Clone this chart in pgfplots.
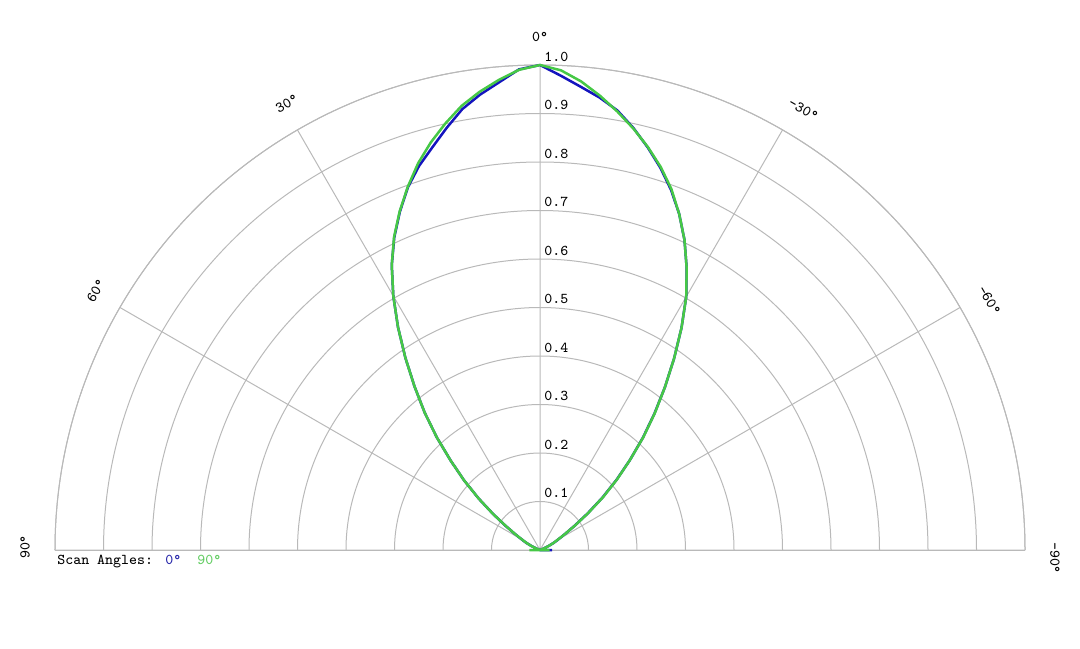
\documentclass[border=0pt]{standalone}
\usepackage{fontspec}
\usepackage{pgfplots}
\usepgfplotslibrary{polar}
\pgfplotsset{compat=1.18}
\usepackage{pgfplotstable}
\definecolor{gridgray}{RGB}{185,185,185}
\definecolor{curveblue}{RGB}{20,20,190}
\definecolor{curvegreen}{RGB}{70,200,70}
\definecolor{legblue}{RGB}{40,40,170}
\definecolor{leggreen}{RGB}{100,205,100}
% scan angle 0 deg
\pgfplotstableread{
a r
-90 0.025
-85 0.0
-80 0.0
-75 0.0
-70 0.004
-67.5 0.010
-65 0.020
-62.5 0.032
-60 0.043
-57.5 0.060
-55 0.087
-52.5 0.124
-50 0.168
-47.5 0.214
-45 0.262
-42.5 0.314
-40 0.367
-37.5 0.423
-35 0.482
-32.5 0.543
-30 0.603
-27.5 0.655
-25 0.705
-22.5 0.750
-20 0.790
-17.5 0.826
-15 0.859
-12.5 0.891
-10 0.920
-7.5 0.941
-5 0.959
-2.5 0.979
0 1.000
2.5 0.992
5 0.968
7.5 0.947
10 0.923
12.5 0.891
15 0.859
17.5 0.830
20 0.796
22.5 0.755
25 0.711
27.5 0.662
30 0.605
32.5 0.545
35 0.484
37.5 0.425
40 0.370
42.5 0.315
45 0.260
47.5 0.212
50 0.165
52.5 0.122
55 0.086
57.5 0.060
60 0.043
62.5 0.032
65 0.020
67.5 0.010
70 0.004
75 0.0
80 0.0
85 0.0
90 0.0
}\scanzero
% scan angle 90 deg
\pgfplotstableread{
a r
-90 0.020
-85 0.0
-80 0.0
-75 0.0
-70 0.004
-67.5 0.010
-65 0.020
-62.5 0.031
-60 0.042
-57.5 0.060
-55 0.088
-52.5 0.125
-50 0.170
-47.5 0.215
-45 0.262
-42.5 0.315
-40 0.368
-37.5 0.423
-35 0.482
-32.5 0.543
-30 0.603
-27.5 0.655
-25 0.705
-22.5 0.750
-20 0.792
-17.5 0.828
-15 0.860
-12.5 0.890
-10 0.918
-7.5 0.945
-5 0.970
-2.5 0.990
0 1.000
2.5 0.991
5 0.973
7.5 0.953
10 0.930
12.5 0.901
15 0.870
17.5 0.836
20 0.797
22.5 0.756
25 0.712
27.5 0.662
30 0.605
32.5 0.545
35 0.484
37.5 0.425
40 0.370
42.5 0.315
45 0.260
47.5 0.212
50 0.165
52.5 0.122
55 0.085
57.5 0.060
60 0.042
62.5 0.031
65 0.020
67.5 0.010
70 0.004
75 0.0
80 0.0
85 0.0
90 0.022
}\scanninety
\begin{document}
\begin{tikzpicture}[font=\ttfamily\fontsize{7.5}{9}\selectfont]
\begin{polaraxis}[
  scale only axis, width=485pt, height=485pt,
  xmin=0, xmax=180, ymin=0, ymax=1,
  xtick={0,30,...,180},
  ytick={0.1,0.2,0.3,0.4,0.5,0.6,0.7,0.8,0.9,1.0},
  xticklabel={\relax}, yticklabel={\relax},
  major tick length=0pt,
  grid=major,
  major grid style={draw=gridgray, line width=0.5pt},
  axis line style={draw=gridgray, line width=0.5pt},
  clip=false,
]
\addplot[curveblue, line width=1.25pt, no marks, line join=round] table[x expr=\thisrow{a}+90, y=r]{\scanzero};
\addplot[curvegreen, line width=1.25pt, no marks, line join=round] table[x expr=\thisrow{a}+90, y=r]{\scanninety};
\coordinate (c) at (axis cs:0,0);
\pgfplotsinvokeforeach{0.1,0.2,0.3,0.4,0.5,0.6,0.7,0.8,0.9,1.0}{
  \node[anchor=south west, inner sep=0pt, xshift=2pt, yshift=1.5pt] at (axis cs:90,#1) {#1};
}
\end{polaraxis}
\node at ([shift={(0pt,256.5pt)}]c) {0°};
\node[rotate=30] at ([shift={(-126.5pt,223pt)}]c) {30°};
\node[rotate=60] at ([shift={(-222pt,129.7pt)}]c) {60°};
\node[rotate=90] at ([shift={(-257.5pt,1.5pt)}]c) {90°};
\node[rotate=-30] at ([shift={(131.7pt,220pt)}]c) {-30°};
\node[rotate=-60] at ([shift={(224.7pt,124.7pt)}]c) {-60°};
\node[rotate=-90] at ([shift={(257.5pt,-4pt)}]c) {-90°};
\node[anchor=base west, inner sep=0pt] at ([shift={(-241.5pt,-7pt)}]c) {Scan Angles:};
\node[anchor=base west, inner sep=0pt, text=legblue] at ([shift={(-187.5pt,-7pt)}]c) {0°};
\node[anchor=base west, inner sep=0pt, text=leggreen] at ([shift={(-171.5pt,-7pt)}]c) {90°};
\pgfresetboundingbox
\path[use as bounding box] ([shift={(-270pt,-49pt)}]c) rectangle ([shift={(270pt,275pt)}]c);
\end{tikzpicture}
\end{document}
